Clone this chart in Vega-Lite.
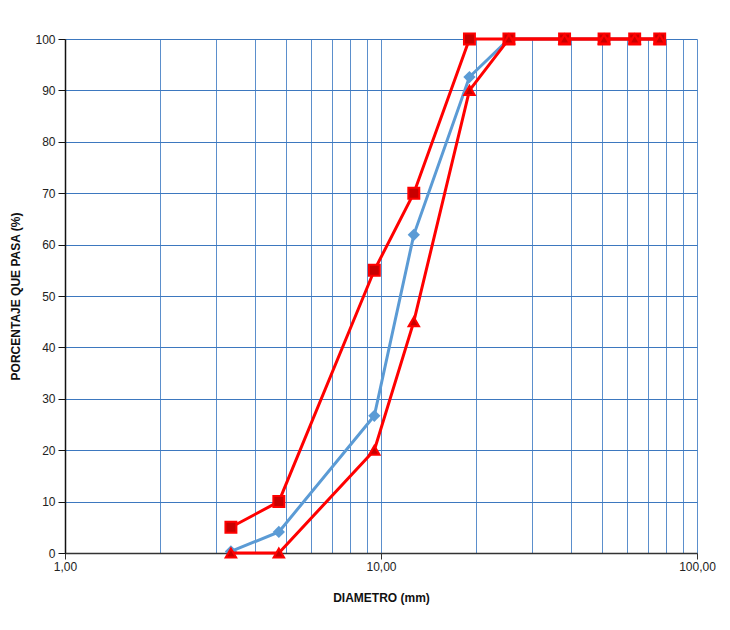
{
  "$schema": "https://vega.github.io/schema/vega-lite/v6.json",
  "autosize": {"type": "none"},
  "width": 632,
  "height": 514,
  "padding": {"left": 65, "top": 39, "right": 33, "bottom": 77},
  "background": "white",
  "config": {
    "font": "Liberation Sans",
    "view": {"stroke": null},
    "axis": {"labelFont": "Liberation Sans", "titleFont": "Liberation Sans"}
  },
  "datasets": {
    "curves": [
      {"d": 3.35, "serie": "Muestra", "p": 0.3},
      {"d": 4.75, "serie": "Muestra", "p": 4.1},
      {"d": 9.525, "serie": "Muestra", "p": 26.7},
      {"d": 12.7, "serie": "Muestra", "p": 61.9},
      {"d": 19.05, "serie": "Muestra", "p": 92.6},
      {"d": 25.4, "serie": "Muestra", "p": 100},
      {"d": 38.1, "serie": "Muestra", "p": 100},
      {"d": 50.8, "serie": "Muestra", "p": 100},
      {"d": 63.5, "serie": "Muestra", "p": 100},
      {"d": 76.2, "serie": "Muestra", "p": 100},
      {"d": 3.35, "serie": "Inferior", "p": 0},
      {"d": 4.75, "serie": "Inferior", "p": 0},
      {"d": 9.525, "serie": "Inferior", "p": 20},
      {"d": 12.7, "serie": "Inferior", "p": 45},
      {"d": 19.05, "serie": "Inferior", "p": 90},
      {"d": 25.4, "serie": "Inferior", "p": 100},
      {"d": 38.1, "serie": "Inferior", "p": 100},
      {"d": 50.8, "serie": "Inferior", "p": 100},
      {"d": 63.5, "serie": "Inferior", "p": 100},
      {"d": 76.2, "serie": "Inferior", "p": 100},
      {"d": 3.35, "serie": "Superior", "p": 5},
      {"d": 4.75, "serie": "Superior", "p": 10},
      {"d": 9.525, "serie": "Superior", "p": 55},
      {"d": 12.7, "serie": "Superior", "p": 70},
      {"d": 19.05, "serie": "Superior", "p": 100},
      {"d": 25.4, "serie": "Superior", "p": 100},
      {"d": 38.1, "serie": "Superior", "p": 100},
      {"d": 50.8, "serie": "Superior", "p": 100},
      {"d": 63.5, "serie": "Superior", "p": 100},
      {"d": 76.2, "serie": "Superior", "p": 100}
    ]
  },
  "data": {"name": "curves"},
  "encoding": {
    "x": {
      "field": "d", "type": "quantitative",
      "scale": {"type": "log", "domain": [1, 100], "nice": false},
      "axis": {
        "values": [1,2,3,4,5,6,7,8,9,10,20,30,40,50,60,70,80,90,100],
        "labelExpr": "datum.value == 1 ? '1,00' : datum.value == 10 ? '10,00' : datum.value == 100 ? '100,00' : ''",
        "grid": true,
        "gridColor": "#5b8fcc",
        "gridWidth": 1,
        "gridOpacity": 1,
        "domainColor": "#333333",
        "domainWidth": 1.5,
        "tickColor": "#333333",
        "tickSize": 6,
        "tickOpacity": {"condition": {"test": "datum.value == 1 || datum.value == 10 || datum.value == 100", "value": 1}, "value": 0},
        "labelFontSize": 12,
        "labelColor": "#222222",
        "labelPadding": 2,
        "labelFlush": false,
        "title": "DIAMETRO (mm)",
        "titleFontSize": 12,
        "titleFontWeight": "bold",
        "titleColor": "#111111",
        "titlePadding": 20
      }
    },
    "y": {
      "field": "p", "type": "quantitative",
      "scale": {"domain": [0, 100], "nice": false},
      "axis": {
        "values": [0,10,20,30,40,50,60,70,80,90,100],
        "grid": true,
        "gridColor": "#3d78bf",
        "gridWidth": 1,
        "domainColor": "#111111",
        "domainWidth": 1.5,
        "tickColor": "#111111",
        "tickSize": 7,
        "labelFontSize": 12,
        "labelColor": "#222222",
        "labelPadding": 3,
        "title": "PORCENTAJE QUE PASA (%)",
        "titleFontSize": 12,
        "titleFontWeight": "bold",
        "titleColor": "#111111",
        "titlePadding": 12
      }
    }
  },
  "layer": [
    {
      "transform": [{"filter": "datum.serie == 'Muestra'"}],
      "mark": {"type": "line", "color": "#5b9bd5", "strokeWidth": 3,
        "point": {"shape": "diamond", "size": 150, "filled": true, "color": "#5b9bd5"}}
    },
    {
      "transform": [{"filter": "datum.serie == 'Superior'"}],
      "mark": {"type": "line", "color": "#ff0000", "strokeWidth": 3,
        "point": {"shape": "square", "size": 120, "filled": true, "fill": "#c80000", "stroke": "#ff0000", "strokeWidth": 2}}
    },
    {
      "transform": [{"filter": "datum.serie == 'Inferior'"}],
      "mark": {"type": "line", "color": "#ff0000", "strokeWidth": 3,
        "point": {"shape": "triangle-up", "size": 110, "filled": true, "fill": "#c80000", "stroke": "#ff0000", "strokeWidth": 2}}
    }
  ]
}
